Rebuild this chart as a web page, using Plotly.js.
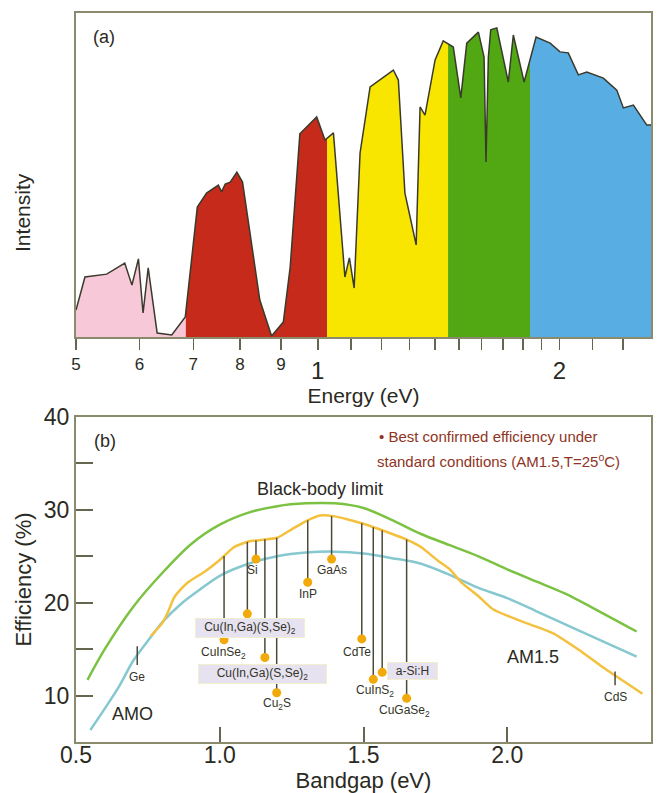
<!DOCTYPE html>
<html><head><meta charset="utf-8">
<script src="https://cdn.plot.ly/plotly-3.0.1.min.js"></script>
<style>html,body{margin:0;padding:0;background:#fff}</style>
</head><body><div id="chart" style="width:665px;height:793px"></div>
<script>
// ---------- Panel (a): solar spectrum ----------
const energyEV = [0.500,0.513,0.546,0.575,0.587,0.598,0.606,0.615,0.631,0.658,
  0.684,0.693,0.708,0.727,0.752,0.759,0.767,0.778,0.793,0.806,
  0.823,0.847,0.876,0.906,0.924,0.950,0.997,1.021,1.046,1.081,
  1.095,1.110,1.129,1.162,1.242,1.260,1.284,1.326,1.341,1.360,
  1.400,1.433,1.475,1.507,1.533,1.585,1.611,1.620,1.631,1.642,
  1.671,1.727,1.752,1.807,1.870,1.947,2.003,2.051,2.111,2.163,
  2.268,2.357,2.402,2.472,2.569,2.600];
const intensity = [8.3,18.5,19.4,22.8,16.0,24.1,7.4,21.3,1.2,0.6,
  6.2,19.8,40.1,44.4,46.9,44.8,47.2,47.8,50.9,47.8,
  32.1,11.4,0.3,4.6,21.6,62.7,67.9,60.8,63.0,18.5,
  24.4,15.1,56.8,77.2,82.4,79.3,44.4,28.4,71.0,68.5,
  85.5,91.4,89.5,73.8,90.7,94.1,86.4,54.0,86.4,94.8,
  95.4,78.7,93.2,78.7,92.6,90.7,88.0,87.7,80.9,81.8,
  79.9,76.2,70.7,71.6,65.4,65.4];
const bandEdges = [0.5, 0.685, 1.027, 1.453, 1.838, 2.6];
const energyTickVals = [0.5,0.6,0.7,0.8,0.9,1,2];
const energyTickText = ['5','6','7','8','9',
  '<span style="font-size:24px;baseline-shift:-9px">1</span>',
  '<span style="font-size:24px;baseline-shift:-9px">2</span>'];
const energyMinorVals = [1.1,1.2,1.3,1.4,1.5,1.6,1.7,1.8,1.9,2.2,2.4];

// ---------- Panel (b): efficiency limits ----------
const bbBandgap = [0.54,0.6,0.7,0.8,0.9,1.0,1.1,1.2,1.3,1.4,1.5,1.6,1.7,1.8,1.9,2.0,2.1,2.2,2.3,2.45];
const bbEff     = [11.7,15.0,19.6,23.2,26.3,28.4,29.7,30.4,30.7,30.7,30.2,28.9,27.4,26.2,25.0,23.6,22.3,21.0,19.4,16.9];
const am0Bandgap = [0.55,0.6,0.65,0.7,0.76,0.8,0.87,0.93,1.0,1.1,1.2,1.3,1.4,1.5,1.6,1.7,1.8,1.9,2.0,2.1,2.2,2.3,2.45];
const am0Eff     = [6.3,8.6,11.0,13.8,16.3,17.9,20.0,21.4,22.9,24.2,25.0,25.4,25.5,25.3,24.8,24.2,23.0,21.6,20.5,19.1,17.7,16.3,14.2];
const am15Bandgap = [0.76,0.8,0.82,0.84,0.86,0.89,0.95,1.0,1.05,1.1,1.2,1.25,1.3,1.35,1.4,1.5,1.6,1.65,1.7,1.76,1.8,1.84,1.9,1.95,2.0,2.05,2.16,2.25,2.33,2.47];
const am15Eff     = [16.4,17.8,19.0,20.5,21.3,22.2,23.4,24.6,26.0,26.6,27.0,27.9,28.8,29.4,29.3,28.5,27.4,26.8,26.0,24.5,23.6,22.2,20.7,19.3,18.6,18.0,16.7,14.9,13.1,10.2];

const materials = ['CuInSe<sub>2</sub>','Cu(In,Ga)(S,Se)<sub>2</sub>','Si','Cu(In,Ga)(S,Se)<sub>2</sub>','Cu<sub>2</sub>S','InP','GaAs','CdTe','CuInS<sub>2</sub>','a-Si:H','CuGaSe<sub>2</sub>'];
const matBandgap = [1.015,1.096,1.126,1.157,1.198,1.306,1.389,1.494,1.534,1.565,1.650];
const matEff     = [16.0,18.8,24.7,14.1,10.3,22.2,24.7,16.1,11.75,12.5,9.7];

const tickMaterials = ['Ge','CdS'];
const tickBandgap = [0.713, 2.375];
const tickHigh = [15.3, 12.6];
const tickLow  = [13.3, 11.1];

const yEffTickVals = [10,20,30,40];
const yEffTickText = ['10','20','30','40'];
const yEffMinorVals = [15,25,35];
const xGapTickVals = [0.5,1.0,1.5,2.0,2.5];
const xGapTickText = ['0.5','1.0','1.5','2.0','2.5'];

// ---------- styles ----------
const FONT = "'Liberation Sans Narrow','Arial Narrow','Liberation Sans',Arial,sans-serif";
const bandColors = ['#f6c8d8','#c62a1a','#f9e600','#52a812','#58ade2'];
const FRAME = '#8a8a6c';
const TXT = '#2a2a22';

function valueAtLog(xs, ys, e){
  for (let i=0;i<xs.length-1;i++){
    if (e>=xs[i] && e<=xs[i+1]){
      const t=(Math.log(e)-Math.log(xs[i]))/(Math.log(xs[i+1])-Math.log(xs[i]));
      return ys[i]+t*(ys[i+1]-ys[i]);
    }
  }
  return ys[ys.length-1];
}
function valueAtLin(xs, ys, e){
  for (let i=0;i<xs.length-1;i++){
    if (e>=xs[i] && e<=xs[i+1]){
      const t=(e-xs[i])/(xs[i+1]-xs[i]);
      return ys[i]+t*(ys[i+1]-ys[i]);
    }
  }
  return e<xs[0]?ys[0]:ys[ys.length-1];
}

const traces = [];
for (let b=0;b<bandEdges.length-1;b++){
  const lo=bandEdges[b], hi=bandEdges[b+1];
  const xs=[lo], ys=[valueAtLog(energyEV,intensity,lo)];
  for (let i=0;i<energyEV.length;i++){ if (energyEV[i]>lo && energyEV[i]<hi){ xs.push(energyEV[i]); ys.push(intensity[i]); } }
  xs.push(hi); ys.push(valueAtLog(energyEV,intensity,hi));
  traces.push({x:xs,y:ys,xaxis:'x',yaxis:'y',type:'scatter',mode:'lines',fill:'tozeroy',
    fillcolor:bandColors[b],line:{width:0,color:bandColors[b]},hoverinfo:'skip'});
}
traces.push({x:energyEV,y:intensity,xaxis:'x',yaxis:'y',type:'scatter',mode:'lines',
  line:{color:'#3a3a2c',width:1.5},hoverinfo:'skip'});

// panel b curves
traces.push({x:bbBandgap,y:bbEff,xaxis:'x2',yaxis:'y2',mode:'lines',line:{color:'#7cc242',width:2.5,shape:'spline',smoothing:0.8}});
traces.push({x:am0Bandgap,y:am0Eff,xaxis:'x2',yaxis:'y2',mode:'lines',line:{color:'#86c8cf',width:2.5,shape:'spline',smoothing:0.8}});
traces.push({x:am15Bandgap,y:am15Eff,xaxis:'x2',yaxis:'y2',mode:'lines',line:{color:'#f4c13e',width:2.5,shape:'spline',smoothing:0.5}});

// drop lines from AM1.5 curve to best confirmed efficiency
const dx=[], dy=[];
matBandgap.forEach((g,i)=>{ dx.push(g,g,null); dy.push(valueAtLin(am15Bandgap,am15Eff,g), matEff[i], null); });
traces.push({x:dx,y:dy,xaxis:'x2',yaxis:'y2',mode:'lines',line:{color:'#4a4a3a',width:1.5}});
const tx=[], ty=[];
tickBandgap.forEach((g,i)=>{ tx.push(g,g,null); ty.push(tickHigh[i],tickLow[i],null); });
traces.push({x:tx,y:ty,xaxis:'x2',yaxis:'y2',mode:'lines',line:{color:'#4a4a3a',width:1.5}});
traces.push({x:matBandgap,y:matEff,xaxis:'x2',yaxis:'y2',mode:'markers',marker:{color:'#f2a90a',size:9}});

// annotations
const C = {xanchor:'center',yanchor:'middle',showarrow:false};
const ann = [];
ann.push(Object.assign({xref:'x domain',yref:'y domain',x:0.049,y:0.926,text:'(a)',font:{size:18,color:TXT}},C));
ann.push(Object.assign({xref:'x2 domain',yref:'y2 domain',x:0.050,y:0.926,text:'(b)',font:{size:18,color:TXT}},C));
ann.push(Object.assign({xref:'paper',yref:'paper',x:-0.094,y:0.727,text:'Intensity',textangle:-90,font:{size:21,color:TXT}},C));
ann.push(Object.assign({xref:'x2',yref:'y2',x:1.349,y:32.25,text:'Black-body limit',font:{size:18,color:TXT}},C));
ann.push(Object.assign({xref:'x2',yref:'y2',x:0.695,y:8.0,text:'AMO',font:{size:18,color:TXT}},C));
ann.push(Object.assign({xref:'x2',yref:'y2',x:2.09,y:14.15,text:'AM1.5',font:{size:18,color:TXT}},C));
ann.push({xref:'x2',yref:'y2',x:1.547,y:37.85,xanchor:'left',yanchor:'middle',showarrow:false,text:'• Best confirmed efficiency under',font:{size:15,color:'#8e3424'}});
ann.push({xref:'x2',yref:'y2',x:1.540,y:35.37,xanchor:'left',yanchor:'middle',showarrow:false,text:'standard conditions (AM1.5,T=25<sup>o</sup>C)',font:{size:15,color:'#8e3424'}});

const labelShift = [[-1,-13],[3,-14],[-3,-11],[-2,-16],[0,-11],[0,-12],[0,-11],[-5,-13],[2,-12],[30,1],[-2,-13]];
const boxWidth = {1:106, 3:125, 9:47};
materials.forEach((m,i)=>{
  const a = Object.assign({xref:'x2',yref:'y2',x:matBandgap[i],y:matEff[i],text:m,
    xshift:labelShift[i][0],yshift:labelShift[i][1],font:{size:12,color:'#333328'}},C);
  if (boxWidth[i]){ a.bgcolor='#e6e2f0'; a.bordercolor='#f2efcf'; a.borderwidth=1; a.borderpad=1; a.width=boxWidth[i]; }
  ann.push(a);
});
tickMaterials.forEach((m,i)=>{
  ann.push(Object.assign({xref:'x2',yref:'y2',x:tickBandgap[i],y:tickLow[i],text:m,yshift:-12,font:{size:12,color:'#333328'}},C));
});

const layout = {
  width:665, height:793,
  margin:{l:76,r:14,t:13,b:51},
  paper_bgcolor:'#fff', plot_bgcolor:'#fff',
  showlegend:false,
  font:{family:FONT,color:TXT},
  xaxis:{type:'log',range:[Math.log10(0.5),Math.log10(2.6)],domain:[0,1],anchor:'y',
    showline:true,mirror:true,linecolor:FRAME,linewidth:2,
    ticks:'outside',ticklen:11,tickwidth:1.5,tickcolor:'#666650',
    tickmode:'array',tickvals:energyTickVals,ticktext:energyTickText,tickfont:{size:17,color:TXT},
    minor:{tickmode:'array',tickvals:energyMinorVals,ticks:'outside',ticklen:11,tickwidth:1.5,tickcolor:'#666650',showgrid:false},
    showgrid:false,zeroline:false,
    title:{text:'Energy (eV)',font:{size:21,color:TXT},standoff:2}},
  yaxis:{domain:[0.5556,1],range:[0,100],anchor:'x',showline:true,mirror:true,linecolor:FRAME,linewidth:2,
    ticks:'',showticklabels:false,showgrid:false,zeroline:false},
  xaxis2:{range:[0.5,2.5],domain:[0,1],anchor:'y2',showline:true,mirror:true,linecolor:FRAME,linewidth:2,
    ticks:'inside',ticklen:15,tickwidth:2,tickcolor:'#666650',ticklabelstandoff:-9,
    tickmode:'array',tickvals:xGapTickVals,ticktext:xGapTickText,tickfont:{size:23,color:TXT},
    showgrid:false,zeroline:false,
    title:{text:'Bandgap (eV)',font:{size:22,color:TXT},standoff:14}},
  yaxis2:{range:[5,40],domain:[0,0.4458],anchor:'x2',showline:true,mirror:true,linecolor:FRAME,linewidth:2,
    ticks:'inside',ticklen:17,tickwidth:2,tickcolor:'#666650',
    tickmode:'array',tickvals:yEffTickVals,ticktext:yEffTickText,tickfont:{size:23,color:TXT},
    minor:{tickmode:'array',tickvals:yEffMinorVals,ticks:'inside',ticklen:17,tickwidth:2,tickcolor:'#666650',showgrid:false},
    showgrid:false,zeroline:false,
    title:{text:'Efficiency (%)',font:{size:22,color:TXT},standoff:6}},
  annotations:ann
};
Plotly.newPlot('chart',traces,layout,{staticPlot:true,displayModeBar:false});
</script></body></html>
